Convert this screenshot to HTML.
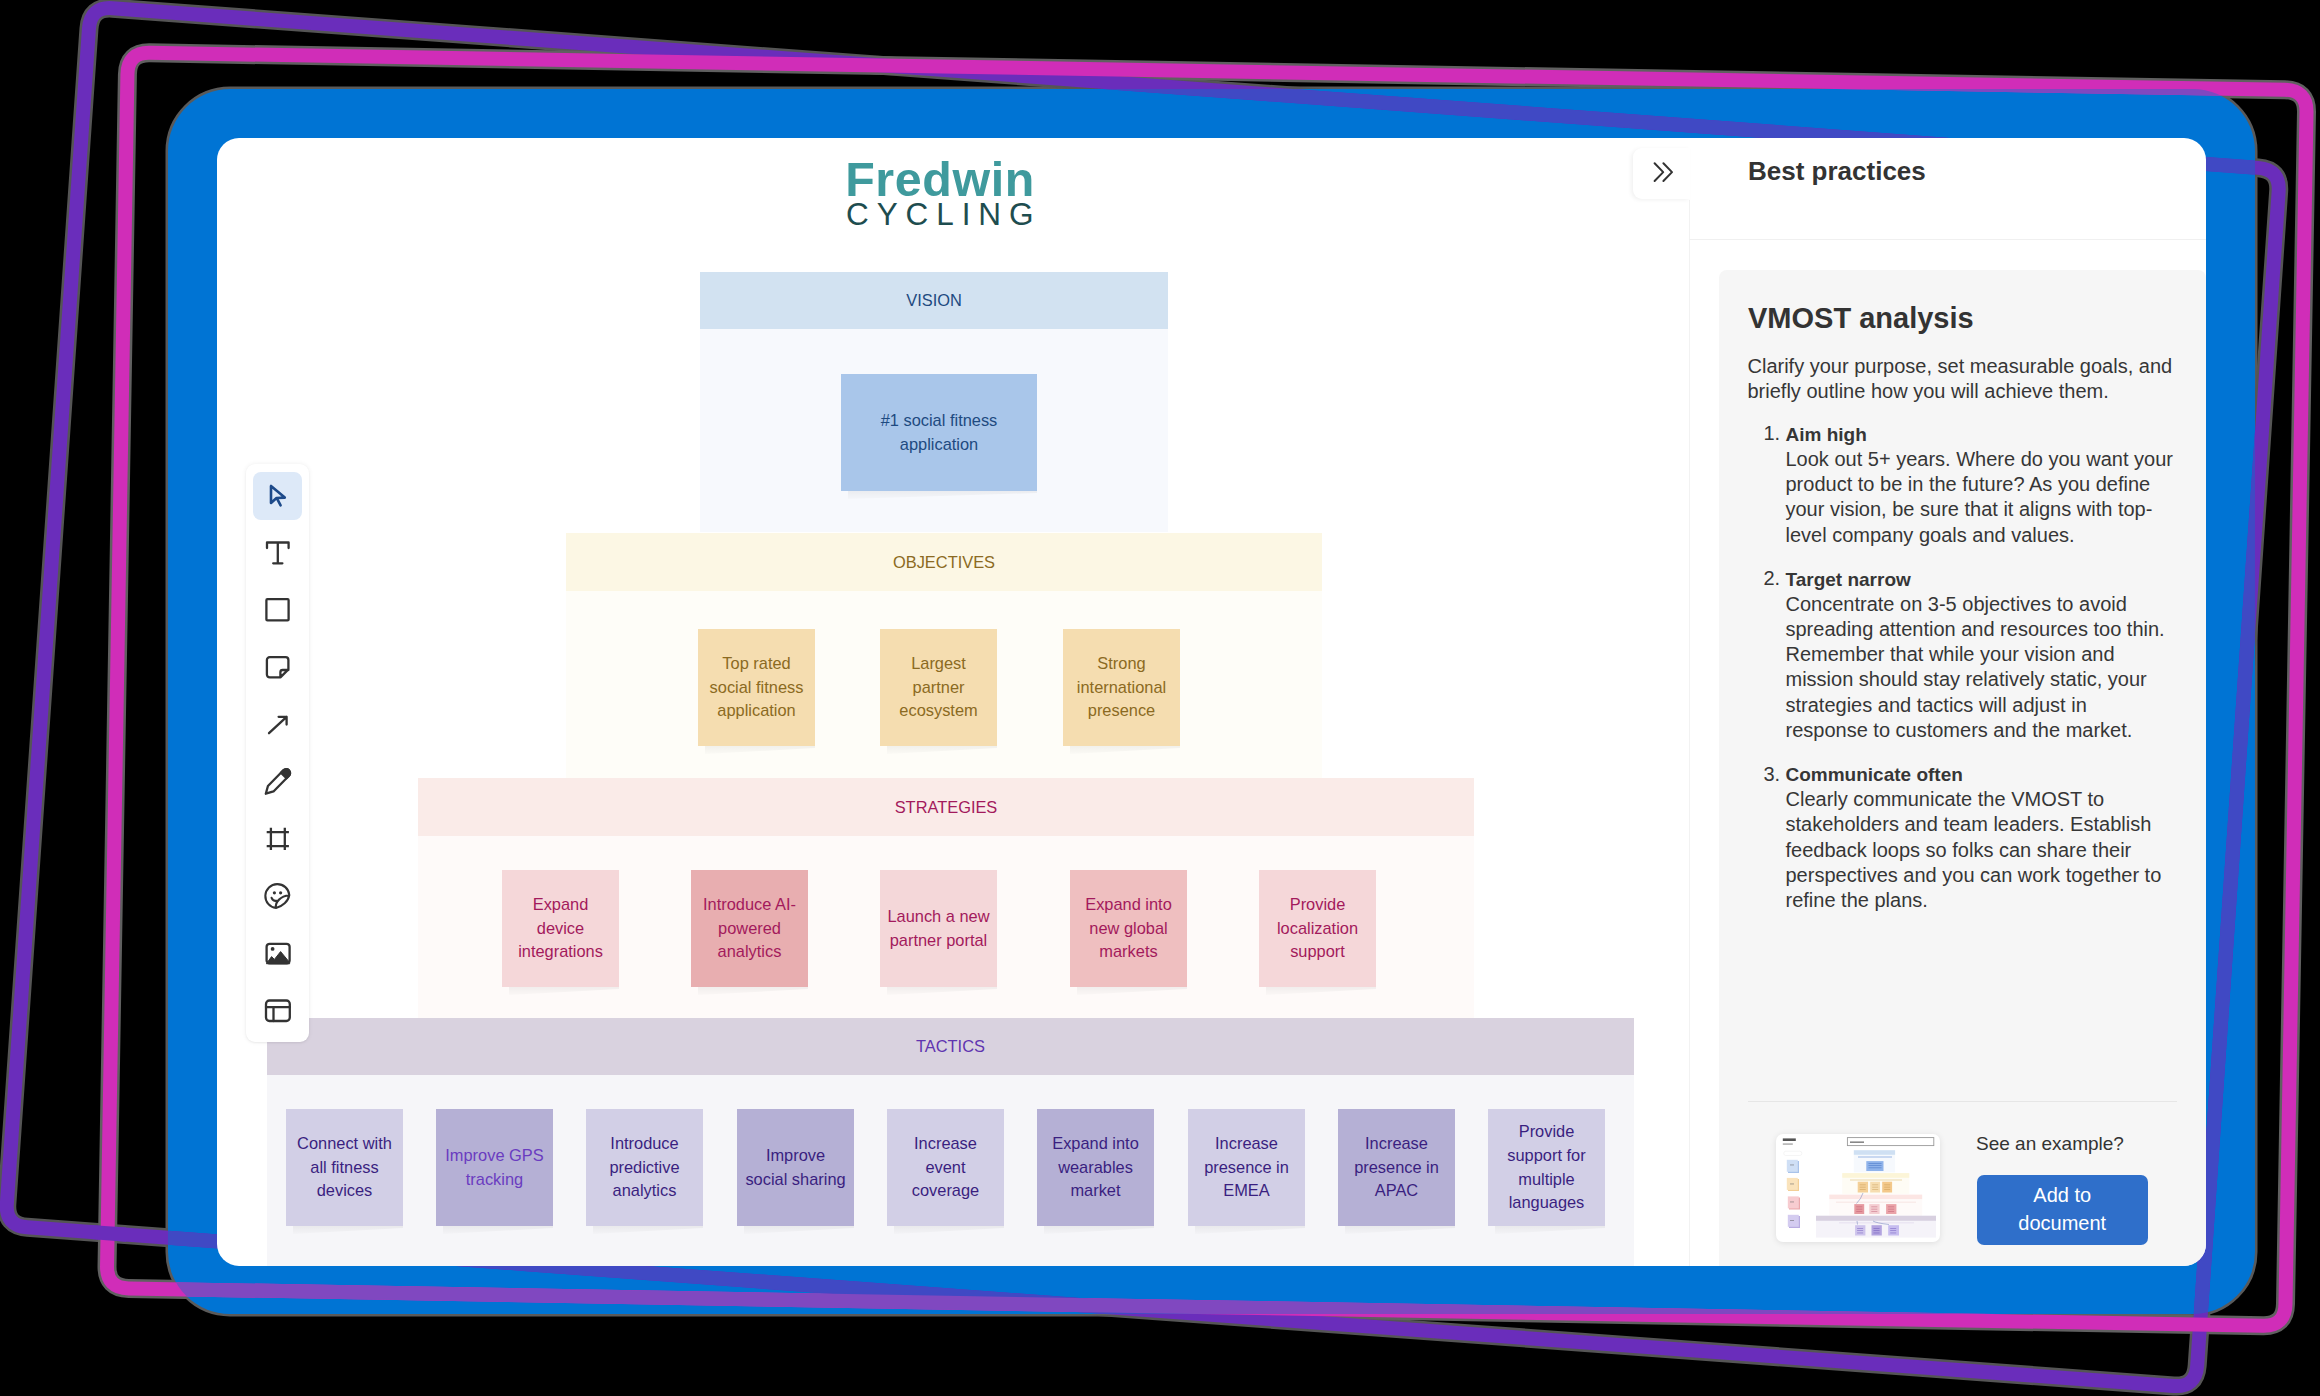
<!DOCTYPE html>
<html><head><meta charset="utf-8">
<style>
*{box-sizing:border-box}
html,body{margin:0;padding:0}
body{width:2320px;height:1396px;background:#000;overflow:hidden;position:relative;font-family:"Liberation Sans",sans-serif}
#bg{position:absolute;left:0;top:0}
#card{position:absolute;left:217px;top:138px;width:1989px;height:1128px;background:#fff;border-radius:22px;overflow:hidden}
.a{position:absolute}
.hdr{position:absolute;font-size:16.4px;text-align:center;display:flex;align-items:center;justify-content:center}
.st{position:absolute;width:117px;height:117px;display:flex;align-items:center;justify-content:center;text-align:center;font-size:16.4px;line-height:23.6px;padding:0;white-space:nowrap}
.st::after{content:"";position:absolute;left:7px;right:0;top:100%;height:8px;background:linear-gradient(to bottom,rgba(0,0,0,0.05),rgba(0,0,0,0.01));clip-path:polygon(0 0,100% 0,100% 25%,0 100%);}

</style></head>
<body>
<svg id="bg" width="2320" height="1396" viewBox="0 0 2320 1396">
  <defs>
    <clipPath id="cx"><rect x="90" y="1205" width="36" height="55"/></clipPath>
    <clipPath id="bc"><rect x="168" y="89" width="2087" height="1225" rx="62" ry="62"/></clipPath>
  </defs>
  <rect x="168" y="89" width="2087" height="1225" rx="62" ry="62" fill="none" stroke="#5a5a5a" stroke-width="5"/>
  <path d="M88.97 28.52 Q90.50 6.57 112.44 8.21 L2258.23 167.88 Q2280.17 169.51 2278.65 191.46 L2197.19 1365.63 Q2195.67 1387.57 2173.73 1385.95 L27.25 1227.32 Q5.31 1225.70 6.85 1203.76 Z" fill="none" stroke="#555" stroke-width="19"/>
  <path d="M127.43 74.43 Q127.81 52.43 149.81 52.81 L2284.89 89.78 Q2306.88 90.16 2306.49 112.16 L2285.49 1304.02 Q2285.10 1326.02 2263.10 1325.63 L128.65 1288.42 Q106.65 1288.03 107.03 1266.04 Z" fill="none" stroke="#606060" stroke-width="19"/>
  <rect x="168" y="89" width="2087" height="1225" rx="62" ry="62" fill="#0074d4"/>
  <path d="M88.97 28.52 Q90.50 6.57 112.44 8.21 L2258.23 167.88 Q2280.17 169.51 2278.65 191.46 L2197.19 1365.63 Q2195.67 1387.57 2173.73 1385.95 L27.25 1227.32 Q5.31 1225.70 6.85 1203.76 Z" fill="none" stroke="#6a2dbb" stroke-width="14"/>
  <path d="M127.43 74.43 Q127.81 52.43 149.81 52.81 L2284.89 89.78 Q2306.88 90.16 2306.49 112.16 L2285.49 1304.02 Q2285.10 1326.02 2263.10 1325.63 L128.65 1288.42 Q106.65 1288.03 107.03 1266.04 Z" fill="none" stroke="#d02db8" stroke-width="14"/>
  <g clip-path="url(#cx)"><path d="M88.97 28.52 Q90.50 6.57 112.44 8.21 L2258.23 167.88 Q2280.17 169.51 2278.65 191.46 L2197.19 1365.63 Q2195.67 1387.57 2173.73 1385.95 L27.25 1227.32 Q5.31 1225.70 6.85 1203.76 Z" fill="none" stroke="#6a2dbb" stroke-width="14"/></g>
  <g clip-path="url(#bc)">
    <path d="M88.97 28.52 Q90.50 6.57 112.44 8.21 L2258.23 167.88 Q2280.17 169.51 2278.65 191.46 L2197.19 1365.63 Q2195.67 1387.57 2173.73 1385.95 L27.25 1227.32 Q5.31 1225.70 6.85 1203.76 Z" fill="none" stroke="#4049c4" stroke-width="14"/>
    <path d="M127.43 74.43 Q127.81 52.43 149.81 52.81 L2284.89 89.78 Q2306.88 90.16 2306.49 112.16 L2285.49 1304.02 Q2285.10 1326.02 2263.10 1325.63 L128.65 1288.42 Q106.65 1288.03 107.03 1266.04 Z" fill="none" stroke="#8048c0" stroke-width="14"/>
  </g>
</svg>
<div id="card">
<div class="a" id="logo1" style="left:628.2px;top:17.099999999999994px;font-size:48.4px;line-height:1;letter-spacing:0.6px;font-weight:bold;color:#3f9a9d">Fredwin</div>
<div class="a" id="logo2" style="left:629px;top:61.19999999999999px;font-size:31.5px;line-height:1;letter-spacing:7.9px;color:#1e4d4f">CYCLING</div>
<div class="a" style="left:483px;top:191px;width:468px;height:203px;background:#f7f9fd"></div>
<div class="hdr" style="left:483px;top:134px;width:468px;height:57px;background:#d2e2f1;color:#1e4a80">VISION</div>
<div class="st" style="left:624px;top:236px;width:196px;height:117px;background:#a9c6ea;color:#1e4a80">#1 social fitness<br>application</div>
<div class="a" style="left:349px;top:453px;width:756px;height:188px;background:#fefdf8"></div>
<div class="hdr" style="left:349px;top:395px;width:756px;height:58px;background:#fcf7e4;color:#8b6a22">OBJECTIVES</div>
<div class="st" style="left:481px;top:491px;width:117px;height:117px;background:#f5ddb0;color:#8b6a22">Top rated<br>social fitness<br>application</div>
<div class="st" style="left:663px;top:491px;width:117px;height:117px;background:#f5ddb0;color:#8b6a22">Largest<br>partner<br>ecosystem</div>
<div class="st" style="left:846px;top:491px;width:117px;height:117px;background:#f5ddb0;color:#8b6a22">Strong<br>international<br>presence</div>
<div class="a" style="left:201px;top:698px;width:1056px;height:182px;background:#fefaf9"></div>
<div class="hdr" style="left:201px;top:640px;width:1056px;height:58px;background:#faebe8;color:#a31a5c">STRATEGIES</div>
<div class="st" style="left:285px;top:732px;width:117px;height:117px;background:#f5d7d9;color:#a31a5c">Expand<br>device<br>integrations</div>
<div class="st" style="left:474px;top:732px;width:117px;height:117px;background:#e8aeb0;color:#a31a5c">Introduce AI-<br>powered<br>analytics</div>
<div class="st" style="left:663px;top:732px;width:117px;height:117px;background:#f4d7d9;color:#a31a5c">Launch a new<br>partner portal</div>
<div class="st" style="left:853px;top:732px;width:117px;height:117px;background:#efbfc0;color:#a31a5c">Expand into<br>new global<br>markets</div>
<div class="st" style="left:1042px;top:732px;width:117px;height:117px;background:#f5d7d9;color:#a31a5c">Provide<br>localization<br>support</div>
<div class="a" style="left:50px;top:937px;width:1367px;height:191px;background:#f6f6f9"></div>
<div class="hdr" style="left:50px;top:880px;width:1367px;height:57px;background:#d9d2df;color:#6034b0">TACTICS</div>
<div class="st" style="left:69px;top:971px;width:117px;height:117px;background:#d2cfe6;color:#3a1f80">Connect with<br>all fitness<br>devices</div>
<div class="st" style="left:219px;top:971px;width:117px;height:117px;background:#b5b0d5;color:#6a3cc0">Improve GPS<br>tracking</div>
<div class="st" style="left:369px;top:971px;width:117px;height:117px;background:#d2cfe6;color:#3a1f80">Introduce<br>predictive<br>analytics</div>
<div class="st" style="left:520px;top:971px;width:117px;height:117px;background:#b5b0d5;color:#3a1f80">Improve<br>social sharing</div>
<div class="st" style="left:670px;top:971px;width:117px;height:117px;background:#d2cfe6;color:#3a1f80">Increase<br>event<br>coverage</div>
<div class="st" style="left:820px;top:971px;width:117px;height:117px;background:#b5b0d5;color:#3a1f80">Expand into<br>wearables<br>market</div>
<div class="st" style="left:971px;top:971px;width:117px;height:117px;background:#d2cfe6;color:#3a1f80">Increase<br>presence in<br>EMEA</div>
<div class="st" style="left:1121px;top:971px;width:117px;height:117px;background:#b5b0d5;color:#3a1f80">Increase<br>presence in<br>APAC</div>
<div class="st" style="left:1271px;top:971px;width:117px;height:117px;background:#d2cfe6;color:#3a1f80">Provide<br>support for<br>multiple<br>languages</div>
<div class="a" id="toolbar" style="left:28.5px;top:326px;width:63.5px;height:578px;background:#fff;border-radius:9px;box-shadow:0 0 5px rgba(0,0,0,0.07),0 1px 2px rgba(0,0,0,0.05)"></div>
<div class="a" style="left:36px;top:333.5px;width:49px;height:48.5px;background:#dde9f8;border-radius:8px"></div>
<svg class="a" style="left:28px;top:326px" width="65" height="580" viewBox="245 464 65 580">
<g fill="none" stroke="#333" stroke-width="2.3" stroke-linecap="round" stroke-linejoin="round">
  <path d="M271 486 V503 L276.5 498 L284.8 497.6 Z M276.8 498.2 L280.6 505.4" stroke="#1d4a8a" stroke-width="2.6"/>
  <path d="M267 548 V542.5 H288.6 V548 M277.8 542.5 V563.3 M273.2 563.3 H282.4"/>
  <rect x="266.4" y="599.2" width="22.2" height="21.2" rx="1"/>
  <path d="M269.7 657.2 H285.6 A2.8 2.8 0 0 1 288.4 660 V669.4 L280.4 677.4 H269.7 A2.8 2.8 0 0 1 266.9 674.6 V660 A2.8 2.8 0 0 1 269.7 657.2 Z M280.4 677.4 V672.2 A2.2 2.2 0 0 1 282.6 670 H288.4"/>
  <path d="M269 733.2 L286.6 716.8 M278.6 716.8 H286.6 V724.6"/>
  <g transform="translate(265.8 793.7) rotate(-45.4)">
    <path d="M0 0 L7 -3.9 H29 A3.9 3.9 0 0 1 29 3.9 H7 Z"/>
    <path d="M25.5 -3.9 H29 A3.9 3.9 0 0 1 29 3.9 H25.5 Z" fill="#333"/>
  </g>
  <path d="M266.7 832.2 H288.9 M266.7 846.1 H288.9 M270.9 827.8 V850 M284.8 827.8 V850" stroke-linecap="butt"/>
  <path d="M289.3 895 A12 12 0 1 0 276 908 C282.5 906.4 288.2 901.5 289.3 895 Z M276 908 C274.8 901.6 280.8 896.4 289.3 895 M271.6 897.8 C272.6 900.2 274.6 901.2 276.6 900.8" stroke-width="2.1"/>
  <circle cx="274.4" cy="892.8" r="1.6" fill="#333" stroke="none"/>
  <circle cx="280.6" cy="892.8" r="1.6" fill="#333" stroke="none"/>
  <rect x="266.6" y="943.8" width="23" height="19.6" rx="3"/>
  <circle cx="272.6" cy="948.9" r="1.9" fill="#333" stroke="none"/>
  <path d="M266.6 963.4 L271.6 956.6 L274.4 959.4 L280.6 951.6 L289.6 962.4 V963.4 Z" fill="#333" stroke-width="1"/>
  <rect x="266" y="1000.5" width="23.8" height="20.5" rx="3.4"/>
  <path d="M266 1007.1 H289.8 M273.5 1007.1 V1021"/>
</g>
</svg>

<div class="a" style="left:1471.5px;top:62px;width:1px;height:1066px;background:#f2f2f2"></div>
<div class="a" style="left:1416px;top:10px;width:57px;height:50.5px;background:#fff;border-radius:9px 0 0 9px;box-shadow:-2px 1px 4px rgba(0,0,0,0.06)"></div>
<svg class="a" style="left:1428px;top:17px" width="35" height="35" viewBox="1645 155 35 35"><path d="M1654.6 163.2 L1663.2 172.1 L1654.6 181 M1663.4 163.2 L1672 172.1 L1663.4 181" fill="none" stroke="#333" stroke-width="2" stroke-linecap="round" stroke-linejoin="round"/></svg>
<div class="a" style="left:1531.00px;top:19.99px;font-size:26px;line-height:26px;font-weight:bold;color:#333;white-space:nowrap">Best practices</div>
<div class="a" style="left:1472px;top:101px;width:520px;height:1px;background:#f0f0f0"></div>
<div class="a" id="gcard" style="left:1502px;top:131.5px;width:487px;height:1016.5px;background:#f6f6f6;border-radius:8px"></div>
<div class="a" style="left:1531.00px;top:166.25px;font-size:29px;line-height:29px;font-weight:bold;color:#333;white-space:nowrap">VMOST analysis</div>
<div class="a" style="left:1530.50px;top:215.67px;font-size:20px;line-height:25.2px;font-weight:normal;color:#363636;white-space:nowrap">Clarify your purpose, set measurable goals, and<br>briefly outline how you will achieve them.</div>
<div class="a" style="left:1546.50px;top:283.47px;font-size:20px;line-height:25.2px;font-weight:normal;color:#363636;white-space:nowrap">1.</div>
<div class="a" style="left:1568.50px;top:283.82px;font-size:19px;line-height:25.2px;font-weight:bold;color:#363636;white-space:nowrap">Aim high</div>
<div class="a" style="left:1568.50px;top:309.07px;font-size:20px;line-height:25.2px;font-weight:normal;color:#363636;white-space:nowrap">Look out 5+ years. Where do you want your<br>product to be in the future? As you define<br>your vision, be sure that it aligns with top-<br>level company goals and values.</div>
<div class="a" style="left:1546.50px;top:428.27px;font-size:20px;line-height:25.2px;font-weight:normal;color:#363636;white-space:nowrap">2.</div>
<div class="a" style="left:1568.50px;top:428.62px;font-size:19px;line-height:25.2px;font-weight:bold;color:#363636;white-space:nowrap">Target narrow</div>
<div class="a" style="left:1568.50px;top:453.87px;font-size:20px;line-height:25.2px;font-weight:normal;color:#363636;white-space:nowrap">Concentrate on 3-5 objectives to avoid<br>spreading attention and resources too thin.<br>Remember that while your vision and<br>mission should stay relatively static, your<br>strategies and tactics will adjust in<br>response to customers and the market.</div>
<div class="a" style="left:1546.50px;top:623.57px;font-size:20px;line-height:25.2px;font-weight:normal;color:#363636;white-space:nowrap">3.</div>
<div class="a" style="left:1568.50px;top:623.92px;font-size:19px;line-height:25.2px;font-weight:bold;color:#363636;white-space:nowrap">Communicate often</div>
<div class="a" style="left:1568.50px;top:649.17px;font-size:20px;line-height:25.2px;font-weight:normal;color:#363636;white-space:nowrap">Clearly communicate the VMOST to<br>stakeholders and team leaders. Establish<br>feedback loops so folks can share their<br>perspectives and you can work together to<br>refine the plans.</div>
<div class="a" style="left:1531px;top:963px;width:429px;height:1px;background:#e6e6e6"></div>
<div class="a" style="left:1759px;top:996.42px;font-size:19px;line-height:19px;color:#333;white-space:nowrap">See an example?</div>
<div class="a" style="left:1759.5px;top:1037px;width:171.5px;height:69.5px;background:#2f6fca;border-radius:7px"></div>
<div class="a" style="left:1759.5px;top:1043.07px;width:171.5px;font-size:20px;line-height:28px;color:#fff;text-align:center">Add to<br>document</div>
<div class="a" id="thumb" style="left:1559px;top:996px;width:164px;height:108px;background:#fff;border-radius:7px;box-shadow:0 1px 6px rgba(0,0,0,0.10);overflow:hidden"><svg width="164" height="108" viewBox="0 0 164 108" style="position:absolute;left:0;top:0;filter:blur(0.4px)">
<rect x="6.8" y="4.4" width="13" height="2.6" fill="#555"/>
<rect x="6.8" y="9.2" width="10" height="1.8" fill="#bbb"/>
<rect x="71.4" y="3.6" width="86.4" height="8" fill="#fff" stroke="#999" stroke-width="0.9"/>
<rect x="74" y="7.4" width="14" height="1.6" fill="#888"/>
<rect x="7.8" y="17.2" width="18" height="4.3" rx="2" fill="#fff" stroke="#eee" stroke-width="0.6"/>
<rect x="12" y="27" width="11" height="12" fill="#a9c3ea"/><rect x="10.8" y="25.8" width="11" height="12" fill="#cfdff5"/>
<rect x="12" y="45" width="11" height="12" fill="#f3cf96"/><rect x="10.8" y="43.9" width="11" height="12" fill="#fae3bc"/>
<rect x="13" y="63.5" width="11" height="12" fill="#eba8ac"/><rect x="11.8" y="62.4" width="11" height="12" fill="#f7ccd0"/>
<rect x="13" y="82" width="11" height="12" fill="#b9ace0"/><rect x="11.8" y="80.8" width="11" height="12" fill="#d4ccf0"/>
<rect x="77.8" y="16.2" width="41.3" height="4.7" fill="#cfe0f3"/>
<rect x="77.8" y="20.9" width="41.3" height="17.5" fill="#f6f9fd"/>
<rect x="82" y="22.5" width="34" height="1" fill="#9ab8e6"/>
<rect x="90.3" y="27.1" width="17.2" height="9.9" fill="#8fb3ea"/>
<rect x="66.2" y="39.1" width="67.1" height="4.8" fill="#fcf5d8"/>
<rect x="66.2" y="43.9" width="67.1" height="16" fill="#fefcf5"/>
<rect x="74" y="45.6" width="52" height="0.8" fill="#e6cf9a"/>
<rect x="81.7" y="47.7" width="10.3" height="10.8" fill="#f4d098"/>
<rect x="94.2" y="47.7" width="9.8" height="10.8" fill="#f6ddb0"/>
<rect x="106.2" y="47.7" width="9.9" height="10.8" fill="#f3c88a"/>
<rect x="53.3" y="60.6" width="92.9" height="4.8" fill="#fce6e4"/>
<rect x="53.3" y="65.4" width="92.9" height="16.3" fill="#fefaf9"/>
<rect x="78.3" y="70.1" width="9.9" height="9.9" fill="#e69aa0"/>
<rect x="93.3" y="70.1" width="10.3" height="9.9" fill="#f4cdd1"/>
<rect x="110.1" y="70.1" width="10.3" height="9.9" fill="#eaa3a8"/>
<rect x="40" y="81.7" width="120" height="5.2" fill="#d8d0e0"/>
<rect x="40" y="86.9" width="120" height="16.7" fill="#f5f3f9"/>
<rect x="79.1" y="91.2" width="10.3" height="10.3" fill="#cdc3ec"/>
<rect x="95.5" y="91.2" width="10.3" height="10.3" fill="#b2a3df"/>
<rect x="112.2" y="91.2" width="10.8" height="10.3" fill="#c6bcef"/>
<rect x="92.5" y="29" width="13.0" height="0.8" fill="#4a78c8" opacity="0.7"/>
<rect x="92.5" y="31.2" width="13.0" height="0.8" fill="#4a78c8" opacity="0.7"/>
<rect x="92.5" y="33.4" width="13.0" height="0.8" fill="#4a78c8" opacity="0.7"/>
<rect x="83.7" y="50.5" width="6.0" height="0.7" fill="#b98a3c" opacity="0.5"/>
<rect x="83.7" y="52.8" width="6.0" height="0.7" fill="#b98a3c" opacity="0.5"/>
<rect x="83.7" y="55.1" width="6.0" height="0.7" fill="#b98a3c" opacity="0.5"/>
<rect x="96.2" y="50.5" width="6.0" height="0.7" fill="#b98a3c" opacity="0.5"/>
<rect x="96.2" y="52.8" width="6.0" height="0.7" fill="#b98a3c" opacity="0.5"/>
<rect x="96.2" y="55.1" width="6.0" height="0.7" fill="#b98a3c" opacity="0.5"/>
<rect x="108.2" y="50.5" width="6.0" height="0.7" fill="#b98a3c" opacity="0.5"/>
<rect x="108.2" y="52.8" width="6.0" height="0.7" fill="#b98a3c" opacity="0.5"/>
<rect x="108.2" y="55.1" width="6.0" height="0.7" fill="#b98a3c" opacity="0.5"/>
<rect x="80.3" y="72.5" width="6.0" height="0.7" fill="#b0405e" opacity="0.5"/>
<rect x="80.3" y="74.8" width="6.0" height="0.7" fill="#b0405e" opacity="0.5"/>
<rect x="80.3" y="77.1" width="6.0" height="0.7" fill="#b0405e" opacity="0.5"/>
<rect x="95.3" y="72.5" width="6.0" height="0.7" fill="#b0405e" opacity="0.5"/>
<rect x="95.3" y="74.8" width="6.0" height="0.7" fill="#b0405e" opacity="0.5"/>
<rect x="95.3" y="77.1" width="6.0" height="0.7" fill="#b0405e" opacity="0.5"/>
<rect x="112.1" y="72.5" width="6.0" height="0.7" fill="#b0405e" opacity="0.5"/>
<rect x="112.1" y="74.8" width="6.0" height="0.7" fill="#b0405e" opacity="0.5"/>
<rect x="112.1" y="77.1" width="6.0" height="0.7" fill="#b0405e" opacity="0.5"/>
<rect x="81.1" y="94" width="6.0" height="0.7" fill="#5a3fb0" opacity="0.55"/>
<rect x="81.1" y="96.3" width="6.0" height="0.7" fill="#5a3fb0" opacity="0.55"/>
<rect x="81.1" y="98.6" width="6.0" height="0.7" fill="#5a3fb0" opacity="0.55"/>
<rect x="97.5" y="94" width="6.0" height="0.7" fill="#5a3fb0" opacity="0.55"/>
<rect x="97.5" y="96.3" width="6.0" height="0.7" fill="#5a3fb0" opacity="0.55"/>
<rect x="97.5" y="98.6" width="6.0" height="0.7" fill="#5a3fb0" opacity="0.55"/>
<rect x="114.2" y="94" width="6.0" height="0.7" fill="#5a3fb0" opacity="0.55"/>
<rect x="114.2" y="96.3" width="6.0" height="0.7" fill="#5a3fb0" opacity="0.55"/>
<rect x="114.2" y="98.6" width="6.0" height="0.7" fill="#5a3fb0" opacity="0.55"/>
<rect x="60" y="67.8" width="80" height="0.6" fill="#f2d6d4"/>
<rect x="63" y="88.6" width="75" height="0.6" fill="#dcd3ea"/>
<path d="M87 59 Q85 65 80.5 69.5 M81 87 L81.5 90.5 M97 87 Q100 89 113 90.5" stroke="#6a7fb8" stroke-width="0.5" fill="none"/>
<rect x="14" y="30.5" width="4" height="0.9" fill="#666" opacity="0.6"/>
<rect x="14" y="49.5" width="4" height="0.9" fill="#666" opacity="0.6"/>
<rect x="14" y="67.5" width="4" height="0.9" fill="#666" opacity="0.6"/>
<rect x="14" y="86" width="4" height="0.9" fill="#666" opacity="0.6"/>
</svg>
</div>
</div>
</body></html>
